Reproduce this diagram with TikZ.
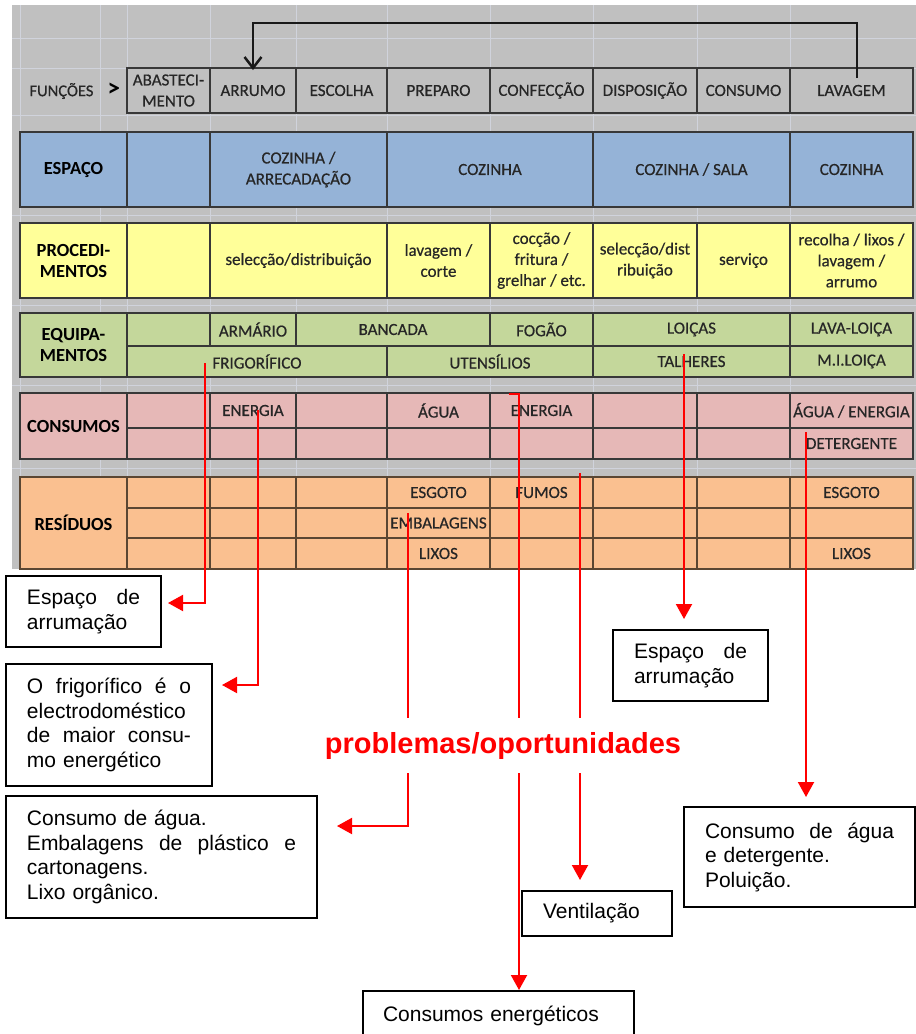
\documentclass[tikz,border=0pt]{standalone}
\usepackage{fontspec}
\setmainfont{Liberation Sans}
\newfontfamily\calib[FakeBold=0.5]{Carlito}
\newfontfamily\calibb{Carlito Bold}
\usetikzlibrary{arrows.meta}
\definecolor{bggray}{HTML}{C0C0C0}
\definecolor{gridc}{HTML}{D0D3DC}
\definecolor{cellline}{HTML}{383838}
\definecolor{celltext}{HTML}{262626}
\definecolor{cblue}{HTML}{95B3D7}
\definecolor{cyellow}{HTML}{FFFF99}
\definecolor{cgreen}{HTML}{C4D79B}
\definecolor{cpink}{HTML}{E6B8B7}
\definecolor{corange}{HTML}{FAC090}
\definecolor{resline}{HTML}{5A4632}
\newcommand\cb[7]{\node[cellst,fill=#6,minimum width={#4-#2},minimum height={#5-#3}] (#1) at (#2,-#3) {#7};}
\newcommand\lb[1]{{\calibb\fontsize{18.5}{22}\selectfont\color{black}#1}}
\newcommand\jline[1]{\leavevmode\hbox to\hsize{#1}}
\begin{document}
\begin{tikzpicture}[x=1pt,y=1pt,
 cellst/.style={draw=cellline,line width=1.4pt,anchor=north west,outer sep=0pt,inner sep=0.5pt,align=center,text=celltext,font=\calib\fontsize{17}{21}\selectfont},
 callout/.style={draw=black,line width=1.6pt,anchor=north west,outer sep=0pt,inner xsep=21pt,inner ysep=2pt,align=left,font=\fontsize{21}{24.5}\selectfont,fill=white},
 redarrow/.style={draw=red,line width=2pt,-{Triangle[width=16pt,length=15pt]}},
 blackarrow/.style={draw=black!90,line width=2.5pt,-{Straight Barb[length=11pt,width=17pt]}},
 gridln/.style={draw=gridc,line width=1pt},
 blockframe/.style={draw=cellline,line width=2.2pt}]
\useasboundingbox (0,0) rectangle (916,-1034);
\fill[white] (0,0) rectangle (916,-1034);
\fill[bggray] (12,-5) rectangle (916,-569);
\foreach \gx in {20,100,127,210,296,387,490,593,697,790}
  \draw[gridln] (\gx,-5) -- (\gx,-569);
\foreach \gy in {38,68,115,215,305,385,468}
  \draw[gridln] (12,-\gy) -- (916,-\gy);
% functions row
\node[font=\calib\fontsize{16.5}{20}\selectfont,text=celltext,anchor=west] (fn) at (26,-91) {FUNÇÕES};
\node[font=\calibb\fontsize{25}{25}\selectfont,text=black,anchor=west] (gt) at (104,-90) {>};
\cb{f1}{127}{68}{210}{113}{bggray}{ABASTECI-\\MENTO}
\cb{f2}{210}{68}{296}{113}{bggray}{ARRUMO}
\cb{f3}{296}{68}{387}{113}{bggray}{ESCOLHA}
\cb{f4}{387}{68}{490}{113}{bggray}{PREPARO}
\cb{f5}{490}{68}{593}{113}{bggray}{CONFECÇÃO}
\cb{f6}{593}{68}{697}{113}{bggray}{DISPOSIÇÃO}
\cb{f7}{697}{68}{790}{113}{bggray}{CONSUMO}
\cb{f8}{790}{68}{913}{113}{bggray}{LAVAGEM}
% espaco
\cb{e0}{20}{132}{127}{207}{cblue}{\lb{ESPAÇO}}
\cb{e1}{127}{132}{210}{207}{cblue}{}
\cb{e2}{210}{132}{387}{207}{cblue}{COZINHA /\\ARRECADAÇÃO}
\cb{e3}{387}{132}{593}{207}{cblue}{COZINHA}
\cb{e4}{593}{132}{790}{207}{cblue}{COZINHA / SALA}
\cb{e5}{790}{132}{913}{207}{cblue}{COZINHA}
% procedimentos
\cb{p0}{20}{223}{127}{298}{cyellow}{\lb{PROCEDI-}\\\lb{MENTOS}}
\cb{p1}{127}{223}{210}{298}{cyellow}{}
\cb{p2}{210}{223}{387}{298}{cyellow}{selecção/distribuição}
\cb{p3}{387}{223}{490}{298}{cyellow}{lavagem /\\corte}
\cb{p4}{490}{223}{593}{298}{cyellow}{cocção /\\fritura /\\grelhar / etc.}
\cb{p5}{593}{223}{697}{298}{cyellow}{selecção/dist\\ribuição}
\cb{p6}{697}{223}{790}{298}{cyellow}{serviço}
\cb{p7}{790}{223}{913}{298}{cyellow}{recolha / lixos /\\lavagem /\\arrumo}
% equipamentos
\cb{q0}{20}{313}{127}{377}{cgreen}{\lb{EQUIPA-}\\\lb{MENTOS}}
\cb{q1}{127}{313}{210}{346}{cgreen}{}
\cb{q2}{210}{313}{296}{346}{cgreen}{ARMÁRIO}
\cb{q3}{296}{313}{490}{346}{cgreen}{BANCADA}
\cb{q4}{490}{313}{593}{346}{cgreen}{FOGÃO}
\cb{q5}{593}{313}{790}{346}{cgreen}{LOIÇAS}
\cb{q6}{790}{313}{913}{346}{cgreen}{LAVA-LOIÇA}
\cb{q7}{127}{346}{387}{377}{cgreen}{FRIGORÍFICO}
\cb{q8}{387}{346}{593}{377}{cgreen}{UTENSÍLIOS}
\cb{q9}{593}{346}{790}{377}{cgreen}{TALHERES}
\cb{q10}{790}{346}{913}{377}{cgreen}{M.I.LOIÇA}
% consumos
\cb{c0}{20}{393}{127}{459}{cpink}{\lb{CONSUMOS}}
\cb{c1}{127}{393}{210}{428}{cpink}{}
\cb{c2}{210}{393}{296}{428}{cpink}{ENERGIA}
\cb{c3}{296}{393}{387}{428}{cpink}{}
\cb{c4}{387}{393}{490}{428}{cpink}{ÁGUA}
\cb{c5}{490}{393}{593}{428}{cpink}{ENERGIA}
\cb{c6}{593}{393}{697}{428}{cpink}{}
\cb{c7}{697}{393}{790}{428}{cpink}{}
\cb{c8}{790}{393}{913}{428}{cpink}{ÁGUA / ENERGIA}
\cb{c9}{127}{428}{210}{459}{cpink}{}
\cb{c10}{210}{428}{296}{459}{cpink}{}
\cb{c11}{296}{428}{387}{459}{cpink}{}
\cb{c12}{387}{428}{490}{459}{cpink}{}
\cb{c13}{490}{428}{593}{459}{cpink}{}
\cb{c14}{593}{428}{697}{459}{cpink}{}
\cb{c15}{697}{428}{790}{459}{cpink}{}
\cb{c16}{790}{428}{913}{459}{cpink}{DETERGENTE}
% residuos
\begin{scope}[cellst/.append style={draw=resline}]
\cb{w0}{20}{477}{127}{569}{corange}{\lb{RESÍDUOS}}
\cb{w1}{127}{477}{210}{508}{corange}{}
\cb{w2}{210}{477}{296}{508}{corange}{}
\cb{w3}{296}{477}{387}{508}{corange}{}
\cb{w4}{387}{477}{490}{508}{corange}{ESGOTO}
\cb{w5}{490}{477}{593}{508}{corange}{FUMOS}
\cb{w6}{593}{477}{697}{508}{corange}{}
\cb{w7}{697}{477}{790}{508}{corange}{}
\cb{w8}{790}{477}{913}{508}{corange}{ESGOTO}
\cb{w9}{127}{508}{210}{538}{corange}{}
\cb{w10}{210}{508}{296}{538}{corange}{}
\cb{w11}{296}{508}{387}{538}{corange}{}
\cb{w12}{387}{508}{490}{538}{corange}{EMBALAGENS}
\cb{w13}{490}{508}{593}{538}{corange}{}
\cb{w14}{593}{508}{697}{538}{corange}{}
\cb{w15}{697}{508}{790}{538}{corange}{}
\cb{w16}{790}{508}{913}{538}{corange}{}
\cb{w17}{127}{538}{210}{569}{corange}{}
\cb{w18}{210}{538}{296}{569}{corange}{}
\cb{w19}{296}{538}{387}{569}{corange}{}
\cb{w20}{387}{538}{490}{569}{corange}{LIXOS}
\cb{w21}{490}{538}{593}{569}{corange}{}
\cb{w22}{593}{538}{697}{569}{corange}{}
\cb{w23}{697}{538}{790}{569}{corange}{}
\cb{w24}{790}{538}{913}{569}{corange}{LIXOS}
\end{scope}
% block frames
\draw[blockframe] (127,-68) rectangle (913,-113);
\draw[blockframe] (20,-132) rectangle (913,-207);
\draw[blockframe] (20,-223) rectangle (913,-298);
\draw[blockframe] (20,-313) rectangle (913,-377);
\draw[blockframe] (20,-393) rectangle (913,-459);
\draw[blockframe,draw=resline] (20,-477) rectangle (913,-569);
% black loop arrow
\coordinate (bls) at (857,-78);
\draw[blackarrow] (bls) -- ++(0,55) -| ([yshift=-2pt]f2.north);
% callouts
\node[callout,text width=113pt,minimum height=71pt] (b1) at (6,-576) {\jline{Espaço\hfill de}\\arrumação};
\node[callout,text width=164pt,minimum height=122pt] (b2) at (6,-664) {\jline{O\hfill frigorífico\hfill é\hfill o}\\electrodoméstico\\\jline{de\hfill maior\hfill consu-}\\mo energético};
\node[callout,text width=269pt,minimum height=122pt] (b3) at (6,-796) {Consumo de água.\\\jline{Embalagens\hfill de\hfill plástico\hfill e}\\cartonagens.\\Lixo orgânico.};
\node[callout,inner xsep=20pt,text width=231pt,minimum height=50pt] (b4) at (363,-991) {Consumos energéticos};
\node[callout,text width=108pt,minimum height=45pt] (b5) at (522,-891) {Ventilação};
\node[callout,text width=113pt,minimum height=71pt] (b6) at (613,-630) {\jline{Espaço\hfill de}\\arrumação};
\node[callout,text width=189pt,minimum height=100pt] (b7) at (684,-807) {\jline{Consumo\hfill de\hfill água}\\e detergente.\\Poluição.};
% red connectors
\coordinate (s1) at (205,-363);
\coordinate (s2) at (258,-410);
\coordinate (s3) at (408,-513);
\coordinate (s4) at (509,-394);
\coordinate (s5) at (580,-473);
\coordinate (s6) at (684,-354);
\coordinate (s7) at (806,-432);
\draw[redarrow,shorten >=7pt] (s1) |- ([yshift=8.5pt]b1.east);
\draw[redarrow,shorten >=10pt] (s2) |- ([yshift=-21pt]b2.north east);
\draw[redarrow,shorten >=20pt] (s3) |- ([yshift=-30pt]b3.north east);
\draw[redarrow,shorten >=1pt] (s4) -| ([xshift=20.5pt]b4.north);
\draw[redarrow,shorten >=11pt] (s5) -- ([xshift=-17pt]b5.north);
\draw[redarrow,shorten >=11pt] (s6) -- ([xshift=-6.5pt]b6.north);
\draw[redarrow,shorten >=10pt] (s7) -- ([xshift=6.5pt]b7.north);
\node[font=\bfseries\fontsize{29}{30}\selectfont,text=red,fill=white,inner xsep=2pt,inner ysep=14pt] (pb) at (503,-745.5) {problemas/oportunidades};
\end{tikzpicture}
\end{document}
